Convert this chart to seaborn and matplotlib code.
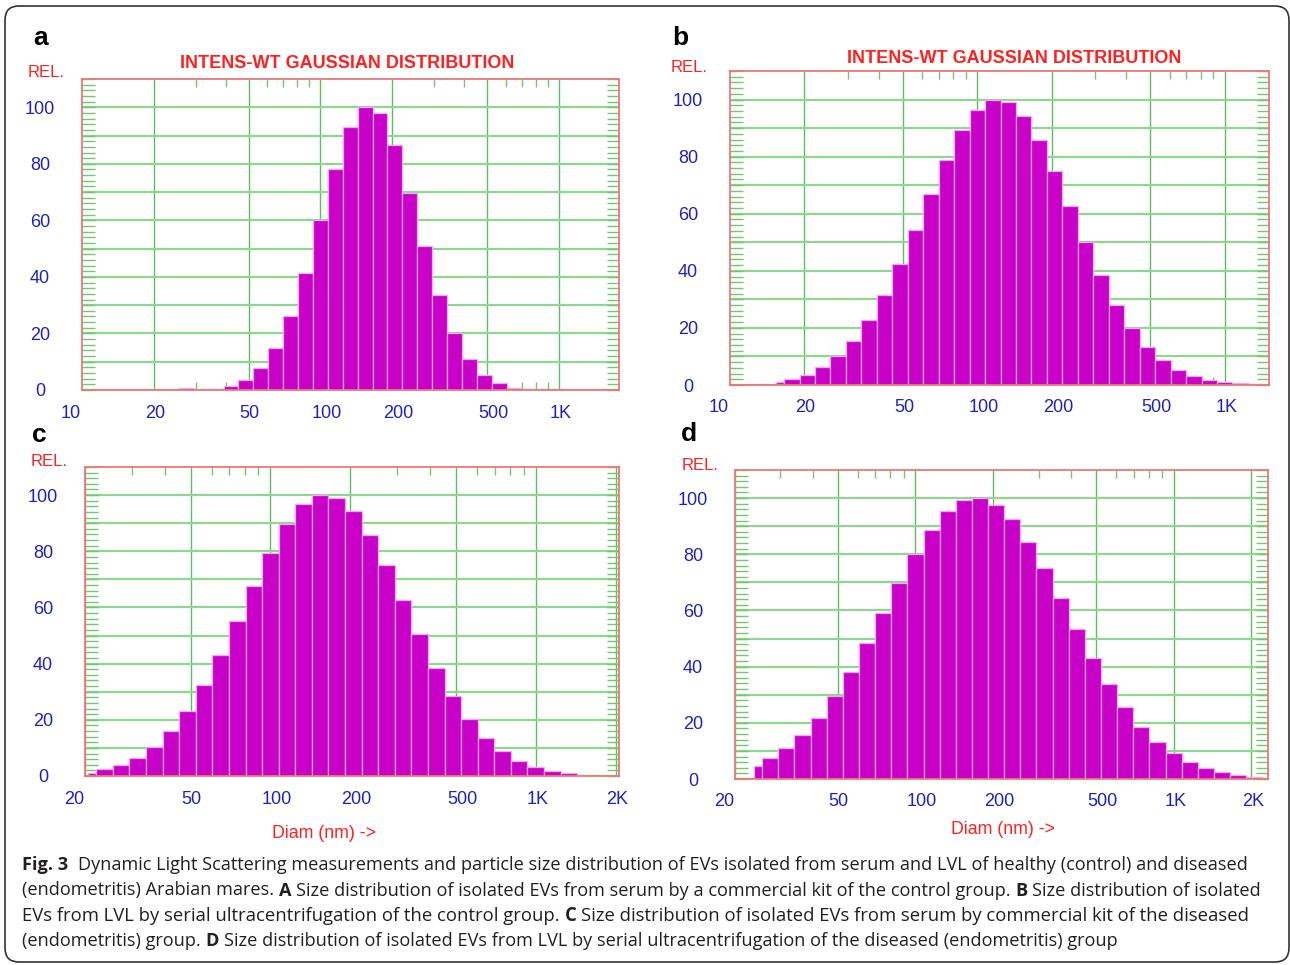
import numpy as np
import matplotlib
matplotlib.use("Agg")
import matplotlib.pyplot as plt
import seaborn as sns
from matplotlib.patches import FancyBboxPatch
from matplotlib.ticker import FixedLocator, MultipleLocator, NullFormatter
from matplotlib.transforms import blended_transform_factory, ScaledTranslation, IdentityTransform

W, H = 1290, 965

# DLS channels (nm), 16 per decade, and relative intensity per panel
diam_a = [23.7, 27.4, 31.6, 36.5, 42.2, 48.7, 56.2, 64.9, 75.0, 86.6, 100, 115.5, 133.4,
          154.0, 177.8, 205.4, 237.1, 273.8, 316.2, 365.2, 421.7, 487.0, 562.3, 649.4,
          749.9, 866.0, 1000]
rel_a = [0, 0.7, 0, 0.4, 1.5, 3.7, 7.7, 14.9, 26.3, 41.4, 60.1, 78.2, 93.0,
         100, 98.0, 86.7, 69.8, 50.9, 33.6, 20.0, 11.0, 5.4, 2.4, 0.8,
         0.35, 0, 0.35]

diam_b = [15.4, 17.8, 20.5, 23.7, 27.4, 31.6, 36.5, 42.2, 48.7, 56.2, 64.9, 75.0, 86.6,
          100, 115.5, 133.4, 154.0, 177.8, 205.4, 237.1, 273.8, 316.2, 365.2, 421.7,
          487.0, 562.3, 649.4, 749.9, 866.0, 1000, 1155, 1334]
rel_b = [1.2, 2.1, 3.6, 6.3, 10.1, 15.3, 22.6, 31.5, 42.3, 54.2, 66.9, 78.8, 89.2,
         96.5, 100, 99.3, 94.3, 86.0, 74.9, 62.6, 50.1, 38.4, 28.2, 19.8,
         13.3, 8.7, 5.4, 3.2, 1.8, 1.1, 0.6, 0.25]

diam_c = [20.5, 23.7, 27.4, 31.6, 36.5, 42.2, 48.7, 56.2, 64.9, 75.0, 86.6, 100, 115.5,
          133.4, 154.0, 177.8, 205.4, 237.1, 273.8, 316.2, 365.2, 421.7, 487.0, 562.3,
          649.4, 749.9, 866.0, 1000, 1155, 1334, 1540]
rel_c = [1.2, 2.4, 3.8, 6.5, 10.2, 15.9, 23.0, 32.4, 43.2, 55.2, 67.7, 79.5, 89.6,
         96.7, 100, 99.1, 94.3, 85.9, 75.0, 62.8, 50.4, 38.6, 28.5, 20.2,
         13.5, 8.8, 5.5, 3.2, 1.9, 0.9, 0.5]

diam_d = [23.7, 27.4, 31.6, 36.5, 42.2, 48.7, 56.2, 64.9, 75.0, 86.6, 100, 115.5, 133.4,
          154.0, 177.8, 205.4, 237.1, 273.8, 316.2, 365.2, 421.7, 487.0, 562.3, 649.4,
          749.9, 866.0, 1000, 1155, 1334, 1540, 1778, 2054]
rel_d = [4.7, 7.4, 10.9, 15.7, 21.8, 29.4, 38.1, 48.3, 59.0, 69.8, 80.0, 88.8, 95.3,
         99.3, 100, 97.6, 92.4, 84.5, 75.0, 64.4, 53.5, 43.1, 33.7, 25.5,
         18.5, 13.0, 9.1, 6.0, 3.8, 2.4, 1.3, 0.7]

# axis ticks
xgrid_vals = [20, 50, 100, 200, 500, 1000, 2000]
xminor_vals = [30, 40, 60, 70, 80, 90, 300, 400, 600, 700, 800, 900]
xticks_ab = [10, 20, 50, 100, 200, 500, 1000]
xlabels_ab = ["10", "20", "50", "100", "200", "500", "1K"]
xticks_cd = [20, 50, 100, 200, 500, 1000, 2000]
xlabels_cd = ["20", "50", "100", "200", "500", "1K", "2K"]
yticks = [0, 20, 40, 60, 80, 100]

BAR = "#C800C8"
EDGE = "#F0A8F0"
FRAME = "#EE7777"
HGRID = "#90D690"
VGRID = "#5CC05C"
TICK = "#70C870"
BLUE = "#2222BB"
RED = "#FF2020"

sns.set_theme(style="white")
plt.rcParams["font.family"] = ["Liberation Sans", "DejaVu Sans"]

fig = plt.figure(figsize=(W / 100, H / 100), dpi=100)


def px_axes(left, right, top, bottom):
    return fig.add_axes([left / W, 1 - bottom / H, (right - left) / W, (bottom - top) / H])


def draw_panel(ax, diam, rel, xlim, xt, xl):
    logc = np.log10(diam)
    edges = np.r_[logc[0] - 1e-9, (logc[:-1] + logc[1:]) / 2,
                  logc[-1] + (logc[-1] - logc[-2]) / 2]
    sns.histplot(x=diam, weights=rel, bins=edges.tolist(), log_scale=True, ax=ax,
                 color=BAR, edgecolor=EDGE, linewidth=0.9, alpha=1)
    ax.set_xlim(xlim)
    ax.set_ylim(0, 110)
    ax.set_xlabel("")
    ax.set_ylabel("")
    ax.set_axisbelow(True)

    ax.xaxis.set_major_locator(FixedLocator(xgrid_vals))
    ax.xaxis.set_minor_locator(FixedLocator(xminor_vals))
    ax.xaxis.set_major_formatter(NullFormatter())
    ax.xaxis.set_minor_formatter(NullFormatter())
    ax.set_yticks(range(0, 101, 10))
    ax.yaxis.set_minor_locator(MultipleLocator(2))
    ax.tick_params(axis="x", which="major", length=0, labelbottom=False)
    ax.tick_params(axis="x", which="minor", top=True, bottom=True, direction="in",
                   length=6, width=1, color=TICK)
    ax.tick_params(axis="y", which="both", left=True, right=True, direction="in",
                   length=9, width=1, color=TICK, labelleft=False)
    ax.grid(axis="x", which="major", color=VGRID, lw=1.0)
    ax.grid(axis="y", which="major", color=HGRID, lw=1.6)

    for sp in ax.spines.values():
        sp.set_color(FRAME)
        sp.set_linewidth(1.3)
        sp.set_visible(True)

    xtrans = blended_transform_factory(ax.transData, ax.transAxes)
    for v, s in zip(xt, xl):
        dx = -21 if v == xlim[0] else -9
        off = ScaledTranslation(dx / 100, -27.5 / 100, fig.dpi_scale_trans)
        ax.text(v, 0, s, transform=xtrans + off, ha="left", va="baseline",
                fontsize=13, color=BLUE, clip_on=False)
    ytrans = blended_transform_factory(ax.transAxes, ax.transData)
    for v in yticks:
        off = ScaledTranslation(-42 / 100, -6.5 / 100, fig.dpi_scale_trans)
        ax.text(0, v, str(v), transform=ytrans + off, ha="center", va="baseline",
                fontsize=13, color=BLUE, clip_on=False)


ax_a = px_axes(82, 619, 79, 390)
ax_b = px_axes(730, 1269, 71, 385)
ax_c = px_axes(85, 619, 467, 776)
ax_d = px_axes(735, 1268, 470, 779)

draw_panel(ax_a, diam_a, rel_a, (10, 1790), xticks_ab, xlabels_ab)
draw_panel(ax_b, diam_b, rel_b, (10, 1510), xticks_ab, xlabels_ab)
draw_panel(ax_c, diam_c, rel_c, (20, 2060), xticks_cd, xlabels_cd)
draw_panel(ax_d, diam_d, rel_d, (20, 2320), xticks_cd, xlabels_cd)


def ftext(x, y, s, **kw):
    return fig.text(x / W, 1 - y / H, s, **kw)


# panel letters, REL., titles, x-axis names
for x, y, s in [(41, 45, "a"), (680, 45, "b"), (39, 442, "c"), (689, 441, "d")]:
    ftext(x, y, s, fontsize=19, fontweight="bold", color="black", ha="center", va="baseline")
for x, y in [(28, 77), (671, 72), (31, 466.5), (682, 470)]:
    ftext(x, y, "REL.", fontsize=12, color=RED, ha="left", va="baseline")
for x, y in [(347, 68.3), (1014.5, 62.7)]:
    ftext(x, y, "INTENS-WT GAUSSIAN DISTRIBUTION", fontsize=13, fontweight="bold",
          color=RED, ha="center", va="baseline")
for x, y in [(324, 838), (1003, 834.5)]:
    ftext(x, y, "Diam (nm) ->", fontsize=12.8, color=RED, ha="center", va="baseline")

# outer rounded frame
frame = FancyBboxPatch((5, 3), 1284, 956, boxstyle="round,pad=0,rounding_size=14",
                       transform=IdentityTransform(), fill=False, ec="#333333", lw=1.2)
fig.add_artist(frame)

# caption with bold pieces
caption = [
    [("Fig. 3", True, 2), ("Dynamic Light Scattering measurements and particle size distribution of EVs isolated from serum and LVL of healthy (control) and diseased", False, 0)],
    [("(endometritis) Arabian mares.", False, 1), ("A", True, 1), ("Size distribution of isolated EVs from serum by a commercial kit of the control group.", False, 1), ("B", True, 1), ("Size distribution of isolated", False, 0)],
    [("EVs from LVL by serial ultracentrifugation of the control group.", False, 1), ("C", True, 1), ("Size distribution of isolated EVs from serum by commercial kit of the diseased", False, 0)],
    [("(endometritis) group.", False, 1), ("D", True, 1), ("Size distribution of isolated EVs from LVL by serial ultracentrifugation of the diseased (endometritis) group", False, 0)],
]
caption_y = [869.5, 895.5, 921, 946.5]
caption_end = [1255, 1260, 1253, 1118]
renderer = fig.canvas.get_renderer()


def rich_line(x, y, parts, size, keep=True):
    kw = dict(fontsize=size, family=["Open Sans", "DejaVu Sans"], color="#231F20", va="baseline")
    t1 = ftext(0, 0, "aa", **kw)
    t2 = ftext(0, 0, "a a", **kw)
    sp = t2.get_window_extent(renderer).width - t1.get_window_extent(renderer).width
    t1.remove()
    t2.remove()
    for text, bold, gap in parts:
        t = ftext(x, y, text, fontweight="bold" if bold else "normal", **kw)
        x += t.get_window_extent(renderer).width + gap * sp
        if not keep:
            t.remove()
    return x


for y, end_px, parts in zip(caption_y, caption_end, caption):
    size = 12
    for _ in range(2):
        end = rich_line(22, y, parts, size, keep=False)
        size = size * (end_px - 22) / (end - 22)
    rich_line(22, y, parts, size)

fig.savefig("out.png", dpi=100)
